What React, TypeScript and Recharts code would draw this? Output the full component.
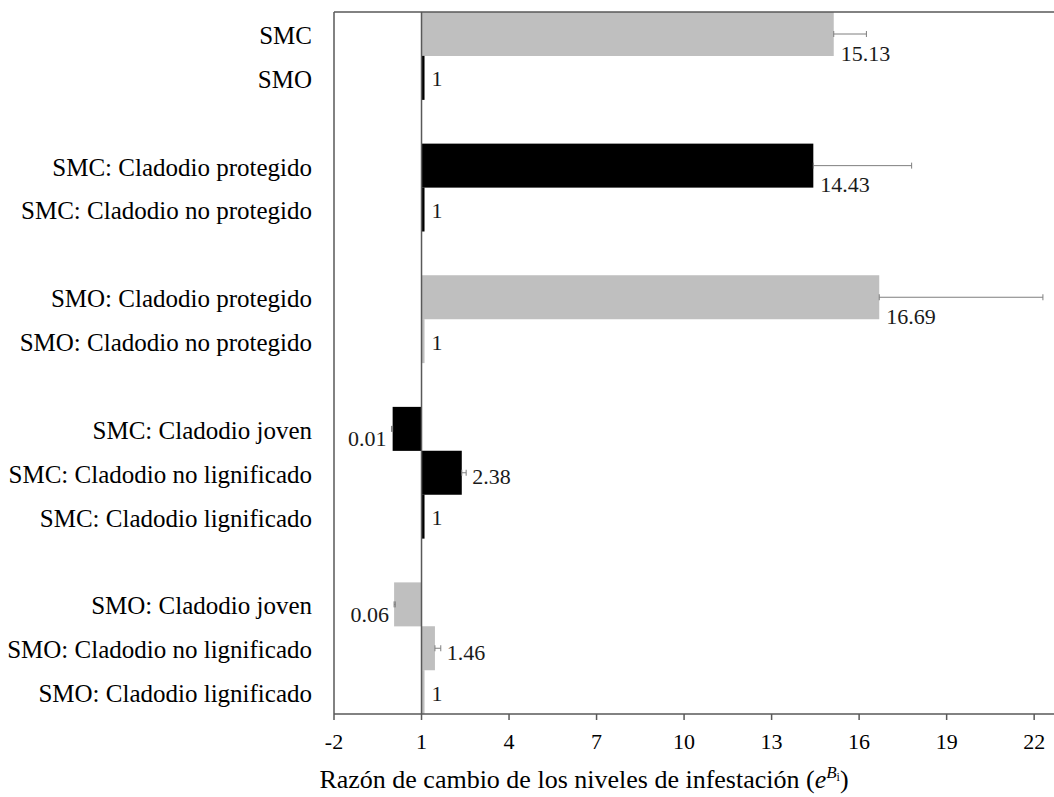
import React from 'react';
import { BarChart, Bar, XAxis, YAxis, ErrorBar, ReferenceLine } from 'recharts';

// ---------- data ----------
const categories = [
  'SMC',
  'SMO',
  '',
  'SMC: Cladodio protegido',
  'SMC: Cladodio no protegido',
  '',
  'SMO: Cladodio protegido',
  'SMO: Cladodio no protegido',
  '',
  'SMC: Cladodio joven',
  'SMC: Cladodio no lignificado',
  'SMC: Cladodio lignificado',
  '',
  'SMO: Cladodio joven',
  'SMO: Cladodio no lignificado',
  'SMO: Cladodio lignificado',
];
const ratios: (number | null)[] = [15.13, 1, null, 14.43, 1, null, 16.69, 1, null, 0.01, 2.38, 1, null, 0.06, 1.46, 1];
const errorMinus: (number | null)[] = [0, null, null, 0, null, null, 0, null, null, 0.04, 0, null, null, 0, 0, null];
const errorPlus: (number | null)[] = [1.12, null, null, 3.37, null, null, 5.61, null, null, 0, 0.15, null, null, 0.04, 0.2, null];
const tones = ['gray', 'black', '', 'black', 'black', '', 'gray', 'gray', '', 'black', 'black', 'black', '', 'gray', 'gray', 'gray'];
const xTicks = [-2, 1, 4, 7, 10, 13, 16, 19, 22];
const X_DOMAIN: [number, number] = [-2, 22.68];
const BASELINE = 1;

// ---------- styles ----------
const FONT = "'Liberation Serif', 'Times New Roman', Times, serif";
const GRAY = '#BFBFBF';
const BLACK = '#000000';
const AXIS = '#595959';
const ERR = '#7F7F7F';

const rows = categories.map((label, i) => ({
  key: 'r' + i,
  label,
  value: ratios[i],
  err: errorPlus[i] == null ? undefined : [errorMinus[i] as number, errorPlus[i] as number],
  tone: tones[i],
}));
const labelByKey: Record<string, string> = {};
rows.forEach((r) => (labelByKey[r.key] = r.label));

const CategoryTick = (props: any) => {
  const { x, y, payload } = props;
  const label = labelByKey[payload?.value] ?? '';
  return (
    <text x={x} y={y} dy={10} textAnchor="end" fontSize={25} fill="#000" fontFamily={FONT}>
      {label}
    </text>
  );
};

const BarShape = (props: any) => {
  const { x, y, width, height, payload } = props;
  if (!payload || payload.value == null || !isFinite(x) || !isFinite(width)) return <g />;
  const v: number = payload.value;
  const fill = payload.tone === 'gray' ? GRAY : BLACK;
  const left = Math.min(x, x + width);
  const w = Math.abs(width);
  const cy = y + height / 2;
  const diff = Math.abs(v - BASELINE);
  const ppu = diff > 0.2 ? w / diff : 0;
  const eLow = payload.err ? payload.err[0] : 0;
  const eHigh = payload.err ? payload.err[1] : 0;
  let tx: number;
  let ty: number;
  let anchor: 'start' | 'end' = 'start';
  if (v < BASELINE) {
    tx = left - eLow * ppu - 5;
    ty = cy + 10;
    anchor = 'end';
  } else {
    const end = left + w;
    if (eHigh > 1) {
      tx = end + 7;
      ty = cy + 19;
    } else if (eHigh > 0) {
      tx = end + eHigh * ppu + 6;
      ty = cy + 4;
    } else {
      tx = end + 7;
      ty = cy + 1;
    }
  }
  return (
    <g>
      <rect x={left} y={y} width={w} height={height} fill={fill} />
      <text x={tx} y={ty + 7.5} textAnchor={anchor} fontSize={22} fill="#1a1a1a" fontFamily={FONT}>
        {String(v)}
      </text>
    </g>
  );
};

const AxisTitle = (props: any) => {
  const vb = props.viewBox || { x: 334, y: 714 };
  const x = vb.x + 250;
  const y = vb.y + 74;
  return (
    <text x={x} y={y} textAnchor="middle" fontSize={26} fill="#000" fontFamily={FONT}>
      <tspan>Razón de cambio de los niveles de infestación (</tspan>
      <tspan fontStyle="italic">e</tspan>
      <tspan fontStyle="italic" fontSize={17} dy={-10}>B</tspan>
      <tspan fontSize={12} dy={3}>i</tspan>
      <tspan fontSize={26} dy={7}>)</tspan>
    </text>
  );
};

export default function App() {
  return (
    <div style={{ position: 'absolute', left: 0, top: 0, width: 1054, height: 797, background: '#fff' }}>
      <BarChart
        width={1054}
        height={797}
        data={rows}
        layout="vertical"
        barCategoryGap={0}
        barGap={0}
        margin={{ top: 11, right: 0, bottom: 0, left: 0 }}
      >
        <XAxis
          xAxisId="top"
          orientation="top"
          type="number"
          domain={X_DOMAIN}
          allowDataOverflow
          height={1}
          tick={false}
          tickLine={false}
          axisLine={{ stroke: AXIS, strokeWidth: 1.5 }}
        />
        <XAxis
          type="number"
          domain={X_DOMAIN}
          allowDataOverflow
          ticks={xTicks}
          interval={0}
          height={83}
          tickSize={6}
          tickMargin={13}
          axisLine={{ stroke: AXIS, strokeWidth: 1.5 }}
          tickLine={{ stroke: AXIS, strokeWidth: 1.5 }}
          tick={{ fontSize: 22, fill: '#000', fontFamily: FONT }}
          label={<AxisTitle />}
        />
        <YAxis
          type="category"
          dataKey="key"
          width={334}
          interval={0}
          tickLine={false}
          tickSize={6}
          tickMargin={16}
          axisLine={{ stroke: AXIS, strokeWidth: 1.5 }}
          tick={<CategoryTick />}
        />
        <Bar
          dataKey={(d: any) => (d.value == null ? null : [BASELINE, d.value])}
          isAnimationActive={false}
          minPointSize={3}
          shape={<BarShape />}
        >
          <ErrorBar
            dataKey={(d: any) => (d.err !== undefined ? d.err : d.payload ? d.payload.err : undefined)}
            direction="x"
            width={3}
            stroke={ERR}
            strokeWidth={1}
            isAnimationActive={false}
          />
        </Bar>
        <ReferenceLine x={BASELINE} stroke={AXIS} strokeWidth={1.5} />
      </BarChart>
    </div>
  );
}
